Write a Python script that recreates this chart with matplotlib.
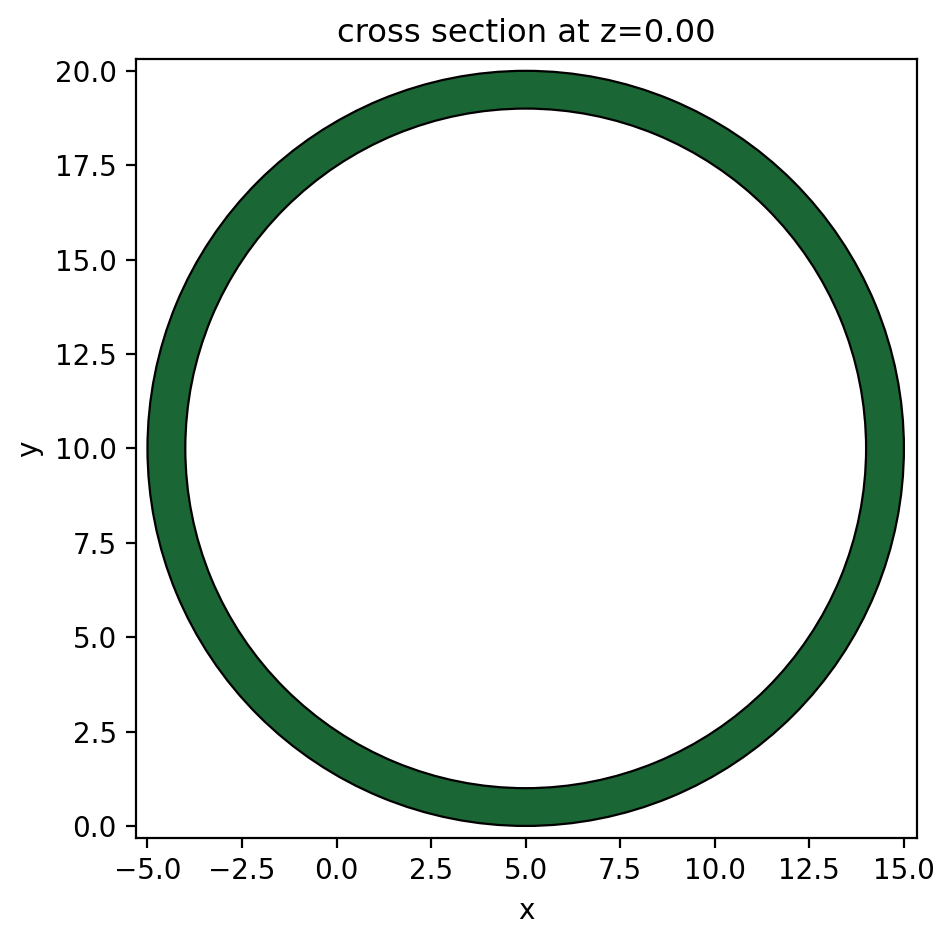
import matplotlib
matplotlib.use("Agg")
import matplotlib.pyplot as plt
import matplotlib.patches as mpatches
import numpy as np

# ring geometry
center = (5.0, 10.0)
outer_radius = 10.0
inner_radius = 9.0
z_value = 0.0

fig = plt.figure(figsize=(4.76, 4.70), dpi=200)
ax = fig.add_axes([0.143, 0.1085, 0.820, 0.829])

ring = mpatches.Annulus(center, outer_radius, outer_radius - inner_radius,
                        facecolor="#1b6635", edgecolor="black", linewidth=0.8)
ax.add_patch(ring)

ax.set_xlim(center[0] - outer_radius - 0.3, center[0] + outer_radius + 0.34)
ax.set_ylim(center[1] - outer_radius - 0.32, center[1] + outer_radius + 0.32)
ax.set_xticks(np.arange(-5.0, 15.01, 2.5))
ax.set_yticks(np.arange(0.0, 20.01, 2.5))
ax.set_xlabel("x")
ax.set_ylabel("y")
ax.set_title(f"cross section at z={z_value:.2f}", fontsize=11.6)

fig.savefig("out.png", dpi=200)
